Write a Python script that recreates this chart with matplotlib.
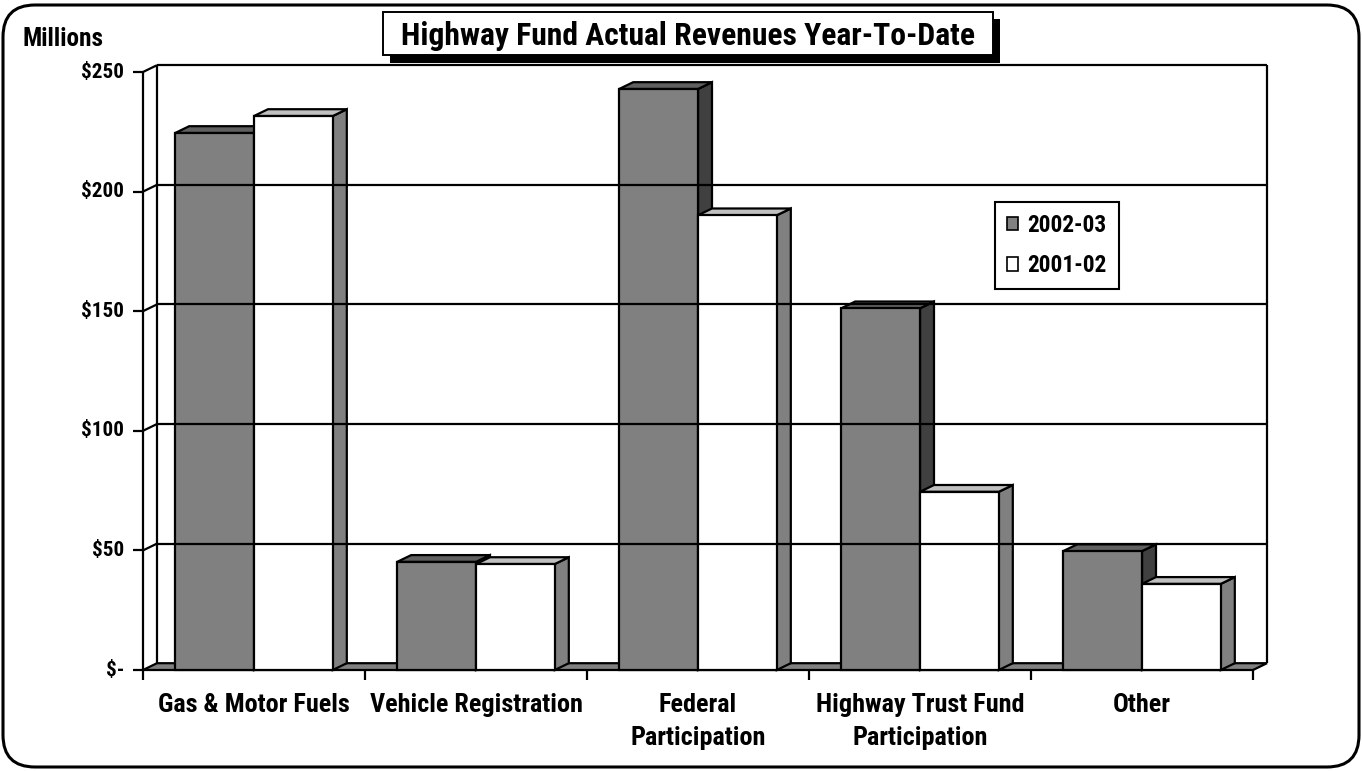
import os
import matplotlib
matplotlib.use("Agg")
import matplotlib.pyplot as plt
from matplotlib import font_manager
from matplotlib.patches import FancyBboxPatch, Rectangle, Patch

# ------------------------------------------------------------------ data
categories = ["Gas & Motor Fuels", "Vehicle Registration", "Federal\nParticipation",
              "Highway Trust Fund\nParticipation", "Other"]
rev_2002_03 = [224.5, 45.2, 242.9, 151.2, 49.7]
rev_2001_02 = [231.6, 44.3, 190.1, 74.5, 36.0]
series_names = ["2002-03", "2001-02"]
y_ticks = [0, 50, 100, 150, 200, 250]
y_labels = ["$-", "$50", "$100", "$150", "$200", "$250"]
title = "Highway Fund Actual Revenues Year-To-Date"

# ------------------------------------------------------------------ fonts
# the original uses a narrow bold sans; pick the narrowest bold face we have
files = {os.path.basename(f.fname).lower(): f.fname for f in font_manager.fontManager.ttflist}
wanted = [("liberationsansnarrow-bold.ttf", 1.0),
          ("notosans-condensedbold.ttf", 1.0),
          ("robotocondensed-bold.ttf", 1.0),
          ("opensans-condensedbold.ttf", 1.0),
          ("notosans-semicondensedbold.ttf", 0.9),
          ("dejavusanscondensed-bold.ttf", 0.82)]
FP, SCALE = None, 1.0
for name, sc in wanted:
    if name in files:
        FP, SCALE = font_manager.FontProperties(fname=files[name]), sc
        break
if FP is None:
    FP = font_manager.FontProperties(family=["Liberation Sans", "DejaVu Sans"], weight="bold")
    SCALE = 0.85


def fp(size):
    p = FP.copy()
    p.set_size(size * SCALE)
    return p


W, H = 1362, 771
GRAY, DARK_TOP, DARK_SIDE = "#808080", "#606060", "#404040"
WHITE, WHITE_TOP, WHITE_SIDE = "#ffffff", "#c0c0c0", "#808080"
LW = 1.6

fig = plt.figure(figsize=(W / 100, H / 100), dpi=100)

# decorations in pixel space (frame + title box)
bg = fig.add_axes([0, 0, 1, 1], zorder=0)
bg.set_xlim(0, W); bg.set_ylim(H, 0); bg.axis("off")
bg.add_patch(FancyBboxPatch((3, 5), W - 6, H - 9, boxstyle="round,pad=0,rounding_size=32",
                            fc="white", ec="black", lw=2.2))
bg.add_patch(Rectangle((390, 19), 610, 44, fc="black", ec="none"))
bg.add_patch(Rectangle((383, 12), 610, 43, fc="white", ec="black", lw=1.4))
bg.text(688, 36, title, ha="center", va="center", fontproperties=fp(22.8))
bg.text(22, 39, "Millions", ha="left", va="center", fontproperties=fp(18.2))

# main chart axes: x in category units, y in $ millions
ax = fig.add_axes([143 / W, (H - 670) / H, 1110 / W, 598 / H], zorder=1)
ax.patch.set_visible(False)
ax.set_xlim(-0.5, len(categories) - 0.5)
ax.set_ylim(0, 250)
ax.axis("off")

px_x = 1110 / len(categories)      # pixels per category unit
px_y = 598 / 250                   # pixels per $1M
DX, DY = 14 / px_x, 6.8 / px_y     # 3-D depth offset
x0, x1 = -0.5, len(categories) - 0.5
kw = dict(clip_on=False, color="black", lw=LW, solid_capstyle="butt")

# back wall: gridlines + edges
for v in y_ticks[1:]:
    ax.plot([x0 + DX, x1 + DX], [v + DY, v + DY], **kw)
    ax.plot([x0, x0 + DX], [v, v + DY], **kw)
ax.plot([x0 + DX, x0 + DX], [DY, 250 + DY], **kw)
ax.plot([x1 + DX, x1 + DX], [DY, 250 + DY], **kw)
ax.plot([x0, x0], [0, 250], **kw)

# floor
ax.fill([x0, x1, x1 + DX, x0 + DX], [0, 0, DY, DY], fc=GRAY, ec="black",
        lw=LW, clip_on=False, joinstyle="miter")

# ticks and labels
for v, lab in zip(y_ticks, y_labels):
    ax.plot([x0 - 10 / px_x, x0], [v, v], **kw)
    ax.text(x0 - 19 / px_x, v, lab, ha="right", va="center", fontproperties=fp(15.2))
for i in range(len(categories) + 1):
    ax.plot([x0 + i, x0 + i], [0, -10 / px_y], **kw)
for i, lab in enumerate(categories):
    ax.text(i, -23 / px_y, lab, ha="center", va="top", fontproperties=fp(18.9),
            linespacing=1.48)


def bar3d(left, width, h, front, top, side):
    r = left + width
    pk = dict(ec="black", lw=LW, clip_on=False, joinstyle="miter")
    ax.fill([r, r + DX, r + DX, r], [0, DY, h + DY, h], fc=side, **pk)
    ax.fill([left, r, r + DX, left + DX], [h, h, h + DY, h + DY], fc=top, **pk)
    ax.fill([left, r, r, left], [0, 0, h, h], fc=front, **pk)


BW = 0.355
for i in range(len(categories)):
    bar3d(i - BW, BW, rev_2002_03[i], GRAY, DARK_TOP, DARK_SIDE)
    bar3d(i, BW, rev_2001_02[i], WHITE, WHITE_TOP, WHITE_SIDE)

handles = [Patch(fc=GRAY, ec="black", lw=1.2, label=series_names[0]),
           Patch(fc=WHITE, ec="black", lw=1.2, label=series_names[1])]
leg = ax.legend(handles=handles, loc="upper left",
                bbox_to_anchor=(995 / W, 1 - 202 / H), bbox_transform=fig.transFigure,
                fancybox=False, frameon=True, edgecolor="black", framealpha=1,
                prop=fp(16.8), handlelength=0.5, handleheight=0.5,
                handletextpad=0.4, labelspacing=0.75, borderpad=0.5,
                borderaxespad=0)
leg.get_frame().set_linewidth(1.5)

fig.savefig("out.png", dpi=100)
